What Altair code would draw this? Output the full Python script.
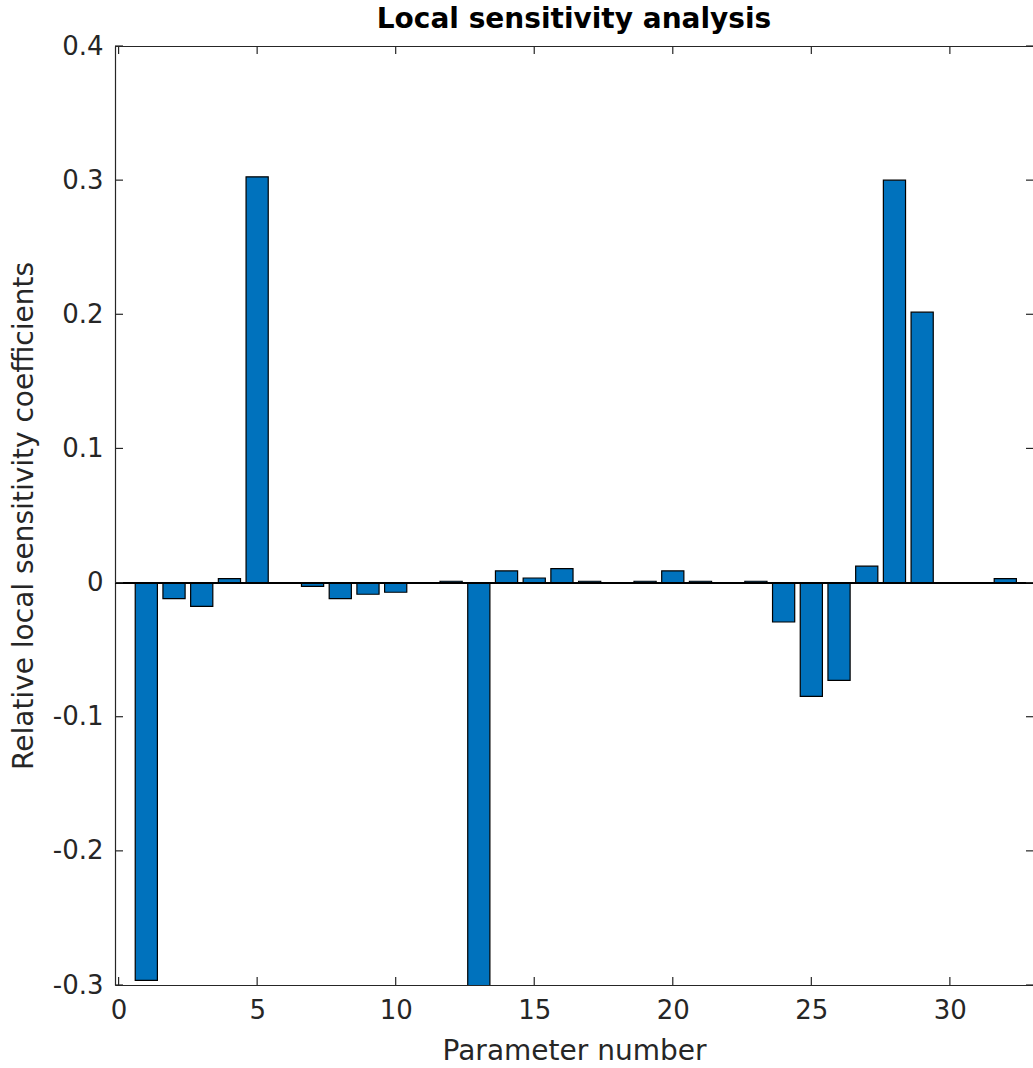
import altair as alt
import pandas as pd

# ---- data ----
params = list(range(1, 33))
values = [-0.2966, -0.0120, -0.0177, 0.0030, 0.3025, 0.0, -0.0028, -0.0120,
          -0.0087, -0.0072, 0.0, 0.0010, -0.3050, 0.0087, 0.0034, 0.0104,
          0.0010, 0.0, 0.0010, 0.0087, 0.0010, 0.0, 0.0010, -0.0294,
          -0.0848, -0.0729, 0.0122, 0.3000, 0.2016, 0.0, 0.0, 0.0030]
x_ticks = [0, 5, 10, 15, 20, 25, 30]
y_ticks = [-0.3, -0.2, -0.1, 0, 0.1, 0.2, 0.3, 0.4]
bar_width = 0.8

W, H = 918, 939
FONT = "DejaVu Sans"
GRAY = "#262626"

df = pd.DataFrame({"param": params, "value": values})
xt = pd.DataFrame({"v": x_ticks})
yt = pd.DataFrame({"v": y_ticks})

xscale = alt.Scale(domain=[-0.13, 33.0], nice=False, zero=False)
yscale = alt.Scale(domain=[-0.3, 0.4], nice=False, zero=False)

xaxis = alt.Axis(
    values=x_ticks, ticks=False, domain=True, domainColor=GRAY, domainWidth=1.2,
    grid=False, labelFontSize=26, labelColor=GRAY, labelFont=FONT, labelPadding=12,
    title="Parameter number", titleFontSize=28, titleFont=FONT,
    titleFontWeight="normal", titleColor=GRAY, titlePadding=14)
yaxis = alt.Axis(
    values=y_ticks, ticks=False, domain=True, domainColor=GRAY, domainWidth=1.2,
    grid=False, labelFontSize=26, labelColor=GRAY, labelFont=FONT, labelPadding=12,
    labelExpr="datum.value == 0 ? '0' : (datum.value < 0 ? '-' : '') + format(abs(datum.value), '.1f')",
    title="Relative local sensitivity coefficients", titleFontSize=28, titleFont=FONT,
    titleFontWeight="normal", titleColor=GRAY, titlePadding=14)

bars = alt.Chart(df).transform_calculate(
    lo=f"datum.param - {bar_width/2}", hi=f"datum.param + {bar_width/2}"
).mark_bar(color="#0072BD", stroke="black", strokeWidth=1.2, clip=True).encode(
    x=alt.X("lo:Q", scale=xscale, axis=xaxis),
    x2="hi:Q",
    y=alt.Y("value:Q", scale=yscale, axis=yaxis),
    y2=alt.datum(0),
)

zero_line = alt.Chart(df).mark_rule(color="black", strokeWidth=1.2).encode(
    y=alt.Y("z:Q", scale=yscale, axis=yaxis), x=alt.value(0), x2=alt.value(W)
).transform_calculate(z="0")

top_line = alt.Chart(df).mark_rule(color=GRAY, strokeWidth=1.2).encode(
    y=alt.value(0.5), x=alt.value(0), x2=alt.value(W)
)

left_ticks = alt.Chart(yt).mark_rule(color=GRAY, strokeWidth=1.2).encode(
    y=alt.Y("v:Q", scale=yscale, axis=yaxis), x=alt.value(0), x2=alt.value(8))
right_ticks = alt.Chart(yt).mark_rule(color=GRAY, strokeWidth=1.2).encode(
    y=alt.Y("v:Q", scale=yscale, axis=yaxis), x=alt.value(W - 7), x2=alt.value(W))
bottom_ticks = alt.Chart(xt).mark_rule(color=GRAY, strokeWidth=1.2).encode(
    x=alt.X("v:Q", scale=xscale, axis=xaxis), y=alt.value(H), y2=alt.value(H - 8))
top_ticks = alt.Chart(xt).mark_rule(color=GRAY, strokeWidth=1.2).encode(
    x=alt.X("v:Q", scale=xscale, axis=xaxis), y=alt.value(0), y2=alt.value(8))

chart = alt.layer(
    bars, zero_line, top_line, left_ticks, right_ticks, bottom_ticks, top_ticks
).properties(
    width=W, height=H,
    title=alt.Title("Local sensitivity analysis", fontSize=28, fontWeight="bold",
                    font=FONT, color="black", anchor="middle", offset=-1),
    autosize=alt.AutoSizeParams(type="none"),
    padding={"left": 115, "top": 46, "right": 0, "bottom": 83},
).configure(background="white").configure_view(stroke=None)

chart.save("out.html", embed_options={"renderer": "svg", "actions": False})
